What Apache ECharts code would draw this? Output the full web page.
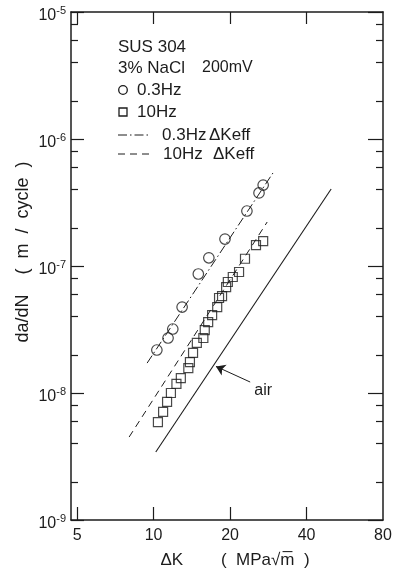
<!DOCTYPE html>
<html><head><meta charset="utf-8">
<script src="https://cdn.jsdelivr.net/npm/echarts@6/dist/echarts.min.js"></script>
<style>html,body{margin:0;padding:0;background:#fff}#c{width:399px;height:573px}</style>
</head><body><div id="c"></div>
<script>
// ---- data ----
const xTicks = [5, 10, 20, 40, 80];
const yTicks = [1e-9, 1e-8, 1e-7, 1e-6, 1e-5];
const minorMultipliers = [2, 4, 6, 8];

// 0.3 Hz (circles)
const circleK = [10.3, 11.4, 11.9, 12.95, 15.0, 16.5, 19.1, 23.3, 26.0, 27.0];
const circleRate = [2.18e-8, 2.71e-8, 3.19e-8, 4.75e-8, 8.65e-8, 1.16e-7, 1.63e-7, 2.71e-7, 3.76e-7, 4.34e-7];
// 10 Hz (squares)
const squareK = [10.4, 10.9, 11.3, 11.7, 12.3, 12.8, 13.7, 13.9, 14.3, 14.8, 15.7, 15.9, 16.4, 17.0, 17.8, 18.1, 18.6, 19.3, 19.6, 20.5, 21.7, 22.9, 25.3, 27.0];
const squareRate = [5.9e-9, 7.1e-9, 8.5e-9, 1.0e-8, 1.18e-8, 1.31e-8, 1.57e-8, 1.75e-8, 2.07e-8, 2.48e-8, 2.71e-8, 3.13e-8, 3.62e-8, 4.11e-8, 4.75e-8, 5.6e-8, 5.8e-8, 6.83e-8, 7.48e-8, 8.19e-8, 8.97e-8, 1.14e-7, 1.46e-7, 1.57e-7];
// Delta K eff lines
const eff03K = [9.43, 29.5];
const eff03Rate = [1.72e-8, 5.4e-7];
const eff10K = [8.01, 28.0];
const eff10Rate = [4.5e-9, 2.22e-7];
// air line
const airK = [10.2, 50.0];
const airRate = [3.43e-9, 4.04e-7];
// "air" annotation (data coordinates)
const airArrowFrom = [24.0, 1.22e-8];
const airArrowTo = [17.6, 1.62e-8];
const airLabelAt = [27.0, 1.04e-8];

// ---- chart ----
const ink = '#1c1c1c';
const font = 'Liberation Sans';
const zip = (a, b) => a.map((v, i) => [v, b[i]]);
const yMinor = [];
yTicks.slice(0, -1).forEach(d => minorMultipliers.forEach(m => yMinor.push(parseFloat((m * d).toPrecision(3)))));
const xMin = 4.73, xMax = 80, yMin = 1e-9, yMax = 1e-5;

function yLabel(v) {
  const e = Math.round(Math.log10(v));
  return '{b|10}{s|' + (e < 0 ? '-' : '') + Math.abs(e) + '}';
}

const baseX = {
  type: 'log', min: xMin, max: xMax, splitLine: { show: false }, minorTick: { show: false },
  axisLine: { show: true, lineStyle: { color: ink, width: 1.5 } }
};
const baseY = {
  type: 'log', min: yMin, max: yMax, splitLine: { show: false }, minorTick: { show: false },
  axisLine: { show: true, lineStyle: { color: ink, width: 1.5 } }
};

const chart = echarts.init(document.getElementById('c'), null, { renderer: 'canvas' });
chart.setOption({
  animation: false,
  backgroundColor: '#fff',
  grid: { left: 71, right: 16, top: 12, bottom: 53, containLabel: false, outerBoundsMode: 'none' },
  xAxis: [
    Object.assign({}, baseX, {
      position: 'bottom',
      name: 'ΔK        (  MPa√m\u0305  )', nameLocation: 'middle', nameGap: 32,
      nameTextStyle: { fontFamily: font, fontSize: 17, color: ink, padding: [0, 0, 0, 16] },
      axisTick: { show: true, inside: true, length: 13, customValues: xTicks.slice(0, -1), lineStyle: { color: ink, width: 1.2 } },
      axisLabel: { show: true, customValues: xTicks, margin: 8, fontFamily: font, fontSize: 16, color: ink, formatter: v => String(Math.round(v)) }
    }),
    Object.assign({}, baseX, {
      position: 'top',
      axisTick: { show: true, inside: true, length: 12, customValues: xTicks.slice(0, -1), lineStyle: { color: ink, width: 1.2 } },
      axisLabel: { show: false }
    })
  ],
  yAxis: [
    Object.assign({}, baseY, {
      position: 'left',
      axisTick: { show: true, inside: true, length: 13, customValues: yTicks, lineStyle: { color: ink, width: 1.2 } },
      axisLabel: {
        show: true, customValues: yTicks, margin: 5, formatter: yLabel, color: ink,
        rich: {
          b: { fontFamily: font, fontSize: 16, color: ink, padding: [7, 0, 0, 0] },
          s: { fontFamily: font, fontSize: 11, color: ink, padding: [0, 0, 3, 0] }
        }
      }
    }),
    Object.assign({}, baseY, {
      position: 'left',
      axisLine: { show: false },
      axisTick: { show: true, inside: true, length: 7, customValues: yMinor, lineStyle: { color: ink, width: 1.2 } },
      axisLabel: { show: false }
    }),
    Object.assign({}, baseY, {
      position: 'right',
      axisTick: { show: true, inside: true, length: 15, customValues: yTicks, lineStyle: { color: ink, width: 1.2 } },
      axisLabel: { show: false }
    }),
    Object.assign({}, baseY, {
      position: 'right',
      axisLine: { show: false },
      axisTick: { show: true, inside: true, length: 7, customValues: yMinor, lineStyle: { color: ink, width: 1.2 } },
      axisLabel: { show: false }
    })
  ],
  series: [
    {
      name: '0.3Hz', type: 'scatter', data: zip(circleK, circleRate), symbol: 'circle', symbolSize: 10.5,
      itemStyle: { color: 'rgba(255,255,255,0)', borderColor: ink, borderWidth: 1.2 }, z: 3
    },
    {
      name: '10Hz', type: 'scatter', data: zip(squareK, squareRate), symbol: 'rect', symbolSize: 9,
      itemStyle: { color: 'rgba(255,255,255,0)', borderColor: ink, borderWidth: 1.2 }, z: 3
    },
    {
      name: '0.3Hz ΔKeff', type: 'line', data: zip(eff03K, eff03Rate), symbol: 'none',
      lineStyle: { color: ink, width: 1, type: [9, 3, 1.5, 3] }
    },
    {
      name: '10Hz ΔKeff', type: 'line', data: zip(eff10K, eff10Rate), symbol: 'none',
      lineStyle: { color: ink, width: 1, type: [7, 5] }
    },
    {
      name: 'air', type: 'line', data: zip(airK, airRate), symbol: 'none',
      lineStyle: { color: ink, width: 1.1, type: 'solid' },
      markLine: {
        silent: true, symbol: ['none', 'arrow'], symbolSize: 9,
        itemStyle: { color: ink },
        lineStyle: { color: ink, width: 1, type: 'solid' }, label: { show: false },
        data: [[{ coord: airArrowFrom }, { coord: airArrowTo }]]
      },
      markPoint: {
        silent: true, symbol: 'circle', symbolSize: 1, itemStyle: { color: 'rgba(0,0,0,0)' },
        label: { show: true, formatter: 'air', position: 'inside', fontFamily: font, fontSize: 16, color: ink },
        data: [{ coord: airLabelAt }]
      }
    }
  ],
  graphic: [
    { type: 'text', x: 23, y: 252, rotation: Math.PI / 2,
      style: { text: 'da/dN    (  m  /  cycle  )', fontFamily: font, fontSize: 18, fill: ink, align: 'center', verticalAlign: 'middle' } },
    { type: 'text', x: 118, y: 47, style: { text: 'SUS 304', fontFamily: font, fontSize: 17, fill: ink, verticalAlign: 'middle' } },
    { type: 'text', x: 118, y: 68, style: { text: '3% NaCl', fontFamily: font, fontSize: 17, fill: ink, verticalAlign: 'middle' } },
    { type: 'text', x: 202, y: 68, style: { text: '200mV', fontFamily: font, fontSize: 16, fill: ink, verticalAlign: 'middle' } },
    { type: 'circle', shape: { cx: 123, cy: 90, r: 4.3 }, style: { fill: 'none', stroke: ink, lineWidth: 1.3 } },
    { type: 'text', x: 137, y: 90, style: { text: '0.3Hz', fontFamily: font, fontSize: 17, fill: ink, verticalAlign: 'middle' } },
    { type: 'rect', shape: { x: 119, y: 108, width: 8, height: 8 }, style: { fill: 'none', stroke: ink, lineWidth: 1.3 } },
    { type: 'text', x: 137, y: 112, style: { text: '10Hz', fontFamily: font, fontSize: 17, fill: ink, verticalAlign: 'middle' } },
    { type: 'line', shape: { x1: 118, y1: 135, x2: 150, y2: 135 }, style: { stroke: ink, lineWidth: 1, lineDash: [9, 3, 1.5, 3] } },
    { type: 'text', x: 162, y: 135, style: { text: '0.3Hz', fontFamily: font, fontSize: 17, fill: ink, verticalAlign: 'middle' } },
    { type: 'text', x: 209, y: 135, style: { text: 'ΔKeff', fontFamily: font, fontSize: 17, fill: ink, verticalAlign: 'middle' } },
    { type: 'line', shape: { x1: 118, y1: 154, x2: 150, y2: 154 }, style: { stroke: ink, lineWidth: 1, lineDash: [7, 5] } },
    { type: 'text', x: 163, y: 154, style: { text: '10Hz', fontFamily: font, fontSize: 17, fill: ink, verticalAlign: 'middle' } },
    { type: 'text', x: 213, y: 154, style: { text: 'ΔKeff', fontFamily: font, fontSize: 17, fill: ink, verticalAlign: 'middle' } }
  ]
});
</script></body></html>
